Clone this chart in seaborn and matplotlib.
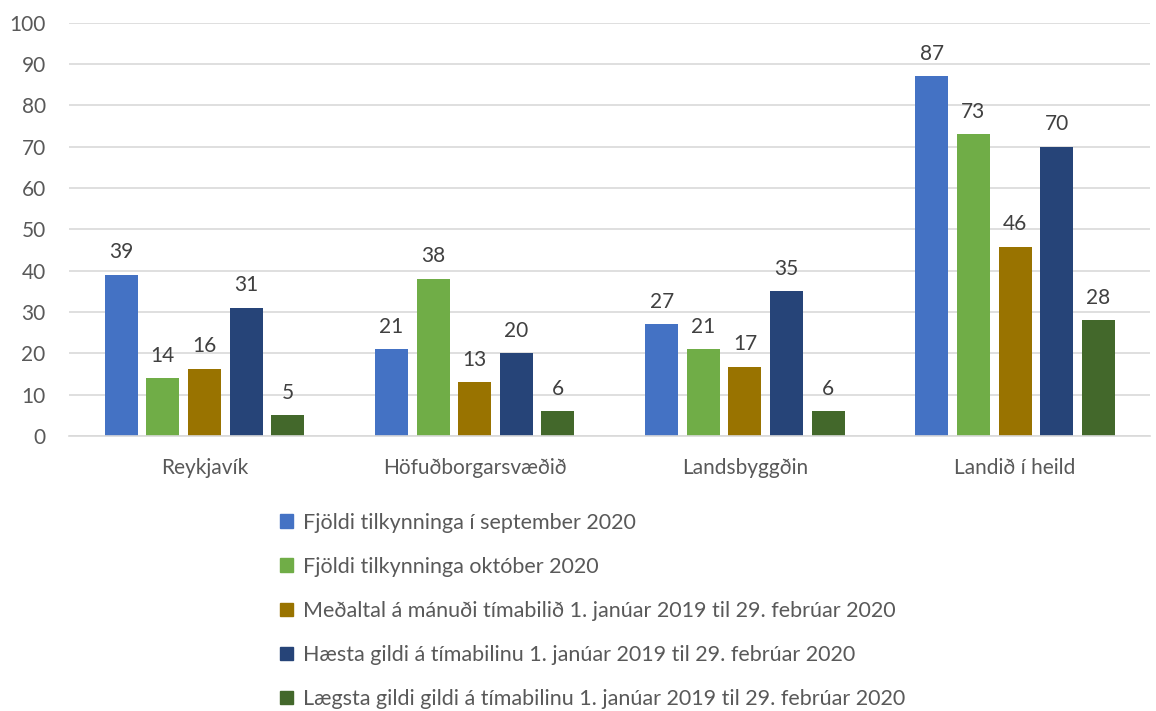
import pandas as pd
import matplotlib
matplotlib.use("Agg")
import matplotlib.pyplot as plt
import seaborn as sns

regions = ["Reykjavík", "Höfuðborgarsvæðið", "Landsbyggðin", "Landið í heild"]
series = [
    "Fjöldi tilkynninga í september 2020",
    "Fjöldi tilkynninga október 2020",
    "Meðaltal á mánuði tímabilið 1. janúar 2019 til 29. febrúar 2020",
    "Hæsta gildi á tímabilinu 1. janúar 2019 til 29. febrúar 2020",
    "Lægsta gildi gildi á tímabilinu 1. janúar 2019 til 29. febrúar 2020",
]
sept_2020 = [39, 21, 27, 87]
okt_2020 = [14, 38, 21, 73]
medaltal = [16.2, 13, 16.7, 45.8]
haesta = [31, 20, 35, 70]
laegsta = [5, 6, 6, 28]
colors = ["#4472c4", "#70ad47", "#997300", "#264478", "#43682b"]

rows = []
for name, vals in zip(series, [sept_2020, okt_2020, medaltal, haesta, laegsta]):
    for r, v in zip(regions, vals):
        rows.append({"Svæði": r, "Röð": name, "Fjöldi": v})
df = pd.DataFrame(rows)

sns.set_style("white")
plt.rcParams["font.family"] = ["Lato", "DejaVu Sans"]

fig = plt.figure(figsize=(11.56, 7.11), dpi=100)
ax = fig.add_axes([0.06, 0.387, 0.935, 0.581])

sns.barplot(data=df, x="Svæði", y="Fjöldi", hue="Röð", palette=colors,
            saturation=1, width=0.77, gap=0.21, linewidth=0,
            ax=ax, legend=False, errorbar=None)

for cont in ax.containers:
    ax.bar_label(cont, fmt="%.0f", padding=9, fontsize=15, color="#404040")

ax.set_ylim(0, 100)
ax.set_yticks(range(0, 101, 10))
ax.yaxis.grid(True, color="#d9d9d9", linewidth=1.2)
ax.set_axisbelow(True)
for s in ["left", "right", "top"]:
    ax.spines[s].set_visible(False)
ax.spines["bottom"].set_color("#d9d9d9")
ax.spines["bottom"].set_linewidth(1.2)
ax.tick_params(axis="x", length=0, labelsize=15, colors="#595959", pad=16)
ax.tick_params(axis="y", length=0, labelsize=15, colors="#595959", pad=17)
ax.set_xlabel("")
ax.set_ylabel("")

handles = [plt.Rectangle((0, 0), 1, 1, color=c) for c in colors]
fig.legend(handles, series, loc="upper left", bbox_to_anchor=(0.235, 0.291),
           frameon=False, fontsize=15.5, labelcolor="#595959",
           handlelength=0.6, handleheight=0.6, handletextpad=0.45,
           labelspacing=1.12, borderaxespad=0)

fig.savefig("out.png", dpi=100)
